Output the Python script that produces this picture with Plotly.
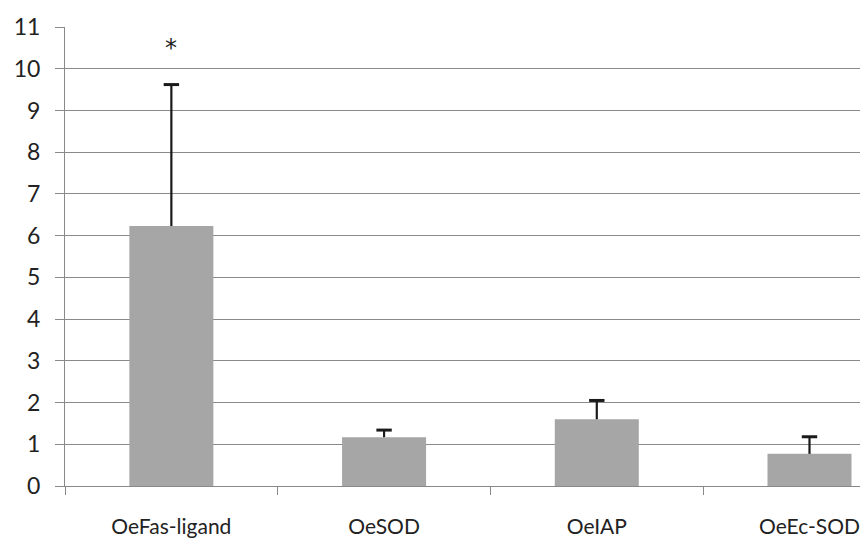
import plotly.graph_objects as go

categories = ["OeFas-ligand", "OeSOD", "OeIAP", "OeEc-SOD"]
values = [6.23, 1.17, 1.60, 0.77]
errors = [3.39, 0.17, 0.45, 0.41]
y_ticks = list(range(0, 12))
sig_label = "*"
sig_category = "OeFas-ligand"
sig_y = 10.5

caps = [v + e for v, e in zip(values, errors)]

fig = go.Figure()
fig.add_trace(go.Bar(
    x=categories, y=values,
    marker=dict(color="#A6A6A6", line=dict(width=0)),
    width=0.395,
    error_y=dict(type="data", symmetric=False, array=errors,
                 arrayminus=[0] * len(errors), color="#1a1a1a",
                 thickness=2.2, width=0),
    showlegend=False,
))
fig.add_trace(go.Scatter(
    x=categories, y=caps, mode="markers",
    marker=dict(symbol="line-ew", size=11, line=dict(width=3, color="#1a1a1a")),
    showlegend=False, hoverinfo="skip",
))
fig.add_annotation(x=sig_category, y=sig_y, text=sig_label, showarrow=False,
                   font=dict(family="DejaVu Sans", size=24, color="#222"))

fig.update_layout(
    width=860, height=537,
    margin=dict(l=57, r=0, t=19, b=59, autoexpand=False),
    paper_bgcolor="white", plot_bgcolor="white",
    font=dict(family="Lato", size=23, color="#222"),
    bargap=0.6,
)
fig.update_xaxes(
    type="category", range=[-0.5, 3.275], automargin=False,
    showgrid=False, showline=True, linecolor="#888", linewidth=1,
    ticks="outside", ticklen=8, tickcolor="#888", tickson="boundaries",
    ticklabelstandoff=22, tickfont=dict(size=21),
)
fig.update_yaxes(
    range=[0, 11], tickvals=y_ticks, automargin=False,
    showgrid=True, gridcolor="#8a8a8a", gridwidth=1,
    showline=True, linecolor="#888", linewidth=1,
    ticks="outside", ticklen=9, tickcolor="#8a8a8a",
    zeroline=False, ticklabelstandoff=10,
)
fig.write_html("out.html")
